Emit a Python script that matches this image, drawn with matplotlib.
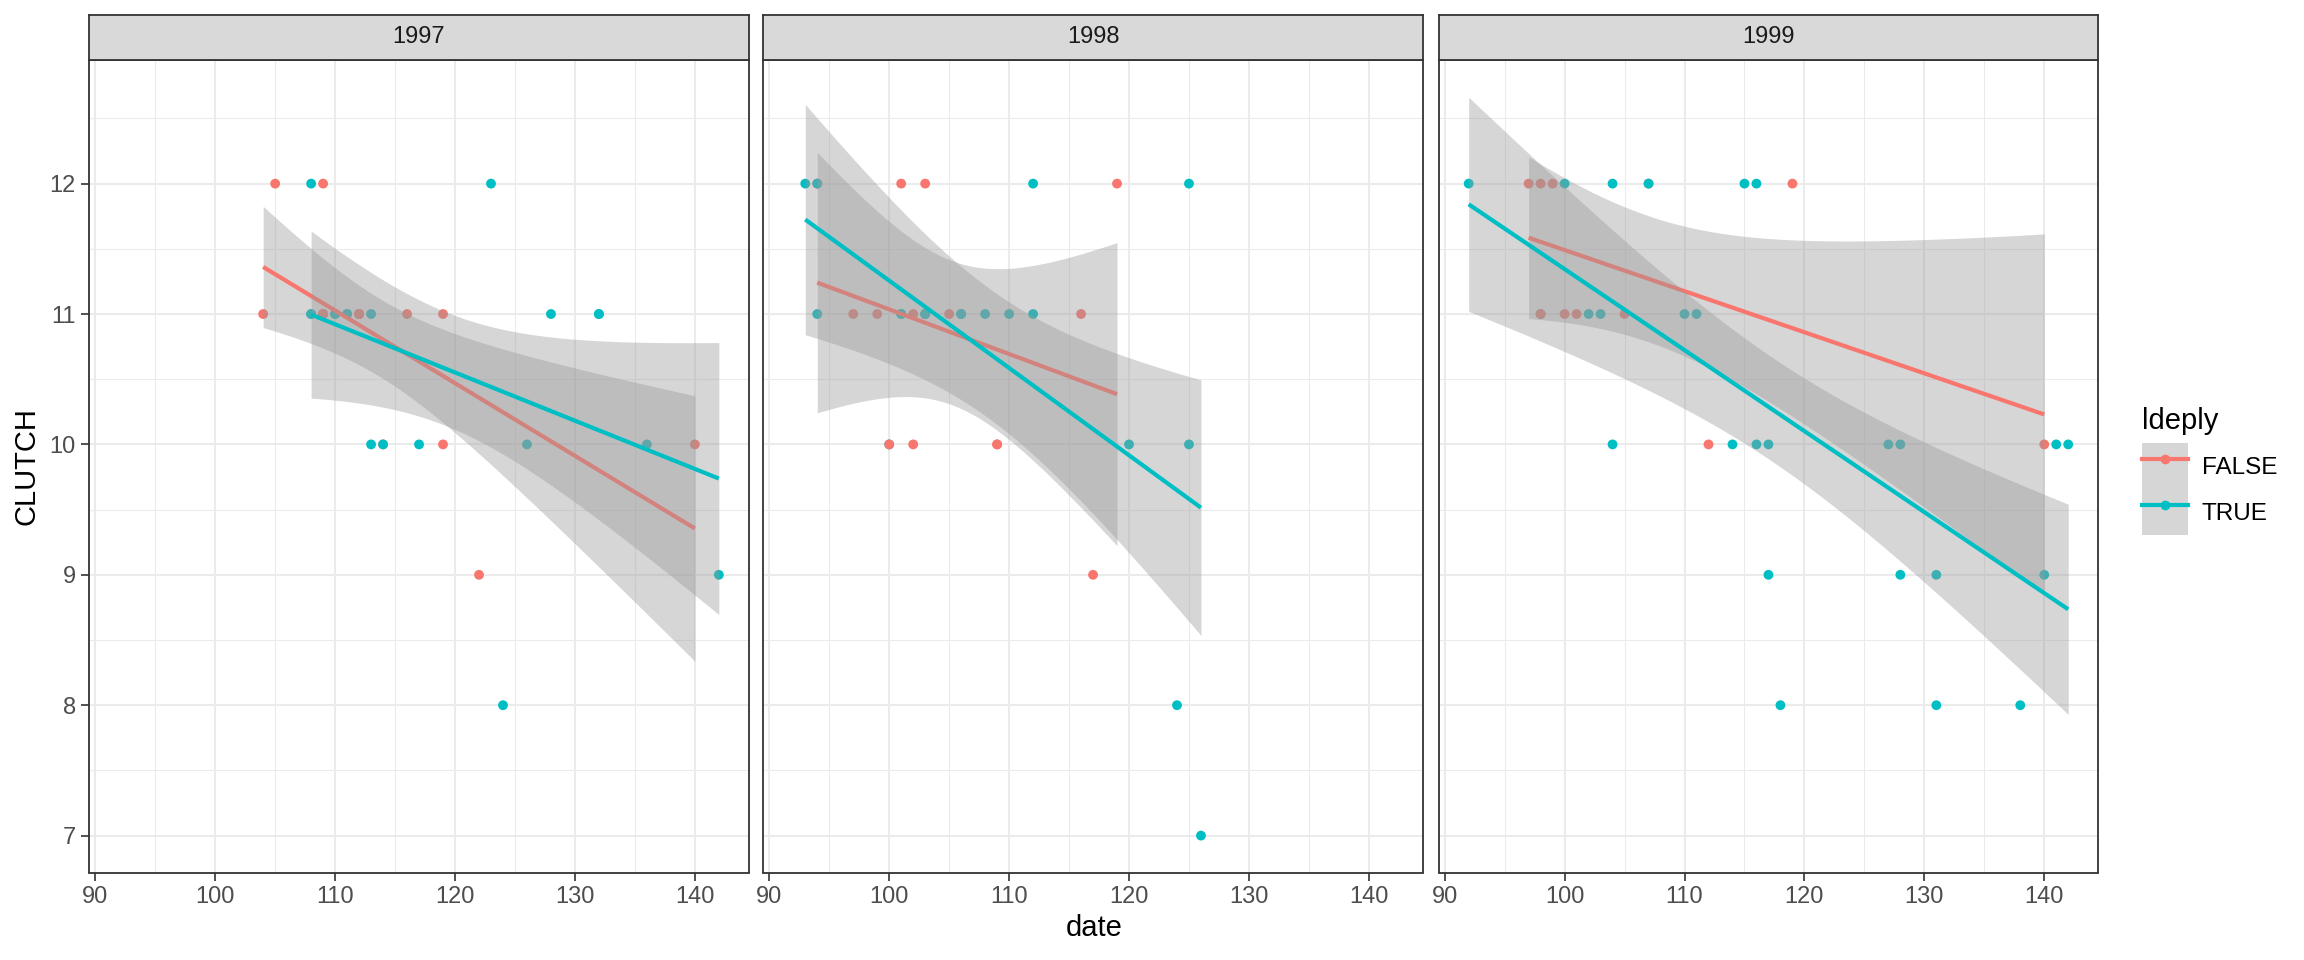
import numpy as np
import matplotlib
matplotlib.use("Agg")
import matplotlib.pyplot as plt
from matplotlib.patches import Patch
from matplotlib.lines import Line2D
from matplotlib.legend_handler import HandlerTuple

plt.rcParams['font.family'] = ['Liberation Sans', 'DejaVu Sans']

# ---------------- data ----------------
years = ["1997", "1998", "1999"]
group_labels = ["FALSE", "TRUE"]
legend_title = "ldeply"
x_label = "date"
y_label = "CLUTCH"
x_ticks = [90, 100, 110, 120, 130, 140]
y_ticks = [7, 8, 9, 10, 11, 12]

# rows listed in drawing order (earlier rows lie underneath later ones);
# repeated rows are observations that sit on the same spot
date_1997 = [105, 109, 104, 109, 109, 109, 109, 112, 112, 112, 112, 116, 119, 119, 114, 140, 122,
             108, 123, 108, 108, 110, 110, 111, 111, 113, 128, 132, 132, 113, 114, 117, 126, 136, 142, 124]
clutch_1997 = [12, 12, 11, 11, 11, 11, 11, 11, 11, 11, 11, 11, 11, 10, 10, 10, 9,
               12, 12, 11, 11, 11, 11, 11, 11, 11, 11, 11, 11, 10, 10, 10, 10, 10, 9, 8]
deply_1997 = [False] * 17 + [True] * 19

date_1998 = [100,
             94, 101, 103, 119, 97, 99, 102, 105, 116, 100, 102, 109, 109, 117,
             93, 94, 112, 125, 94, 101, 101, 103, 103, 103, 106, 106, 108, 110, 112, 120, 125, 124, 126]
clutch_1998 = [10,
               12, 12, 12, 12, 11, 11, 11, 11, 11, 10, 10, 10, 10, 9,
               12, 12, 12, 12, 11, 11, 11, 11, 11, 11, 11, 11, 11, 11, 11, 10, 10, 8, 7]
deply_1998 = [True] + [False] * 14 + [True] * 19

date_1999 = [98,
             97, 98, 99, 107, 119, 98, 100, 101, 105, 112, 140,
             92, 100, 104, 107, 115, 116, 102, 103, 110, 111, 104, 114, 116, 117,
             127, 128, 141, 142, 117, 128, 131, 140, 118, 131, 138]
clutch_1999 = [11,
               12, 12, 12, 12, 12, 11, 11, 11, 11, 10, 10,
               12, 12, 12, 12, 12, 12, 11, 11, 11, 11, 10, 10, 10, 10,
               10, 10, 10, 10, 9, 9, 9, 9, 8, 8, 8]
deply_1999 = [True] + [False] * 11 + [True] * 25

dates = [date_1997, date_1998, date_1999]
clutches = [clutch_1997, clutch_1998, clutch_1999]
deplys = [deply_1997, deply_1998, deply_1999]

colors = {False: "#F8766D", True: "#00BFC4"}

# ---------------- helpers ----------------
def t975(df):
    z = 1.959963985
    g1 = (z**3 + z) / 4
    g2 = (5 * z**5 + 16 * z**3 + 3 * z) / 96
    g3 = (3 * z**7 + 19 * z**5 + 17 * z**3 - 15 * z) / 384
    g4 = (79 * z**9 + 776 * z**7 + 1482 * z**5 - 1920 * z**3 - 945 * z) / 92160
    return z + g1 / df + g2 / df**2 + g3 / df**3 + g4 / df**4


def lm_band(x, y, n_out=80):
    x = np.asarray(x, float)
    y = np.asarray(y, float)
    n = len(x)
    mx, my = x.mean(), y.mean()
    sxx = ((x - mx) ** 2).sum()
    slope = ((x - mx) * (y - my)).sum() / sxx
    icpt = my - slope * mx
    resid = y - (icpt + slope * x)
    s = np.sqrt((resid ** 2).sum() / (n - 2))
    xs = np.linspace(x.min(), x.max(), n_out)
    fit = icpt + slope * xs
    se = s * np.sqrt(1.0 / n + (xs - mx) ** 2 / sxx)
    t = t975(n - 2)
    return xs, fit, fit - t * se, fit + t * se


# ---------------- figure ----------------
W, H = 2304, 960
fig = plt.figure(figsize=(W / 100, H / 100), dpi=100)

panel_left = [89.3, 763.3, 1438.7]
panel_w = 659.5
panel_top, panel_bot = 60.0, 872.5
strip_top = 14.7

grid_major = "#EBEBEB"
dark = "#333333"

for i, yr in enumerate(years):
    l = panel_left[i]
    ax = fig.add_axes([l / W, (H - panel_bot) / H, panel_w / W, (panel_bot - panel_top) / H])
    ax.set_xlim(89.5, 144.5)
    ax.set_ylim(6.717, 12.948)
    ax.set_xticks(x_ticks)
    ax.set_yticks(y_ticks)
    ax.set_xticks([95, 105, 115, 125, 135], minor=True)
    ax.set_yticks([7.5, 8.5, 9.5, 10.5, 11.5, 12.5], minor=True)
    ax.grid(True, which="major", color=grid_major, lw=1.5, zorder=0)
    ax.grid(True, which="minor", color=grid_major, lw=0.75, zorder=0)
    ax.set_axisbelow(True)
    ax.tick_params(which="minor", length=0)
    ax.tick_params(which="major", direction="out", length=5.8, width=1.2, color=dark,
                   labelcolor="#4D4D4D", labelsize=17, pad=4)
    if i > 0:
        ax.tick_params(axis="y", which="major", length=0, labelleft=False)
    for sp in ax.spines.values():
        sp.set_color(dark)
        sp.set_linewidth(1.3)

    d = np.asarray(dates[i], float)
    c = np.asarray(clutches[i], float)
    g = np.asarray(deplys[i], bool)
    ax.scatter(d, c, s=50, c=[colors[v] for v in g], edgecolors="none", zorder=2)

    z = 3
    for grp in (False, True):
        m = g == grp
        xs, fit, lo, hi = lm_band(d[m], c[m])
        ax.fill_between(xs, lo, hi, color="#999999", alpha=0.4, lw=0, zorder=z)
        ax.plot(xs, fit, color=colors[grp], lw=3, zorder=z + 1, solid_capstyle="butt")
        z += 2

    # strip
    sax = fig.add_axes([l / W, (H - panel_top) / H, panel_w / W, (panel_top - strip_top) / H])
    sax.set_facecolor("#D9D9D9")
    sax.set_xticks([])
    sax.set_yticks([])
    for sp in sax.spines.values():
        sp.set_color(dark)
        sp.set_linewidth(1.3)
    sax.text(0.5, 0.5, yr, ha="center", va="center", fontsize=17, color="#1A1A1A",
             transform=sax.transAxes)

fig.text(26 / W, 1 - 466 / H, y_label, rotation=90, ha="center", va="center",
         fontsize=21, color="black")
fig.text((panel_left[0] + panel_left[2] + panel_w) / 2 / W, 1 - 928 / H, x_label,
         ha="center", va="center", fontsize=21, color="black")

handles = [(Patch(facecolor="#999999", alpha=0.4, edgecolor="none"),
            Line2D([], [], color=colors[v], lw=3, marker="o", ms=7, markeredgewidth=0))
           for v in (False, True)]
fs = 17.5
key_px = 46.0
fpx = fs * 100 / 72
hh = (key_px / fpx - 0.245) / 0.65
leg = fig.legend(handles, group_labels, handler_map={tuple: HandlerTuple(ndivide=1, pad=0)},
                 title=legend_title, title_fontsize=21, fontsize=fs,
                 loc="upper left", bbox_to_anchor=(2141.5 / W, 1 - 407 / H),
                 frameon=False, handlelength=key_px / fpx, handleheight=hh,
                 labelspacing=0, handletextpad=14 / fpx, borderpad=0, borderaxespad=0,
                 alignment="left")
leg._legend_box.sep = 6

fig.savefig("out.png", dpi=100, facecolor="white")
